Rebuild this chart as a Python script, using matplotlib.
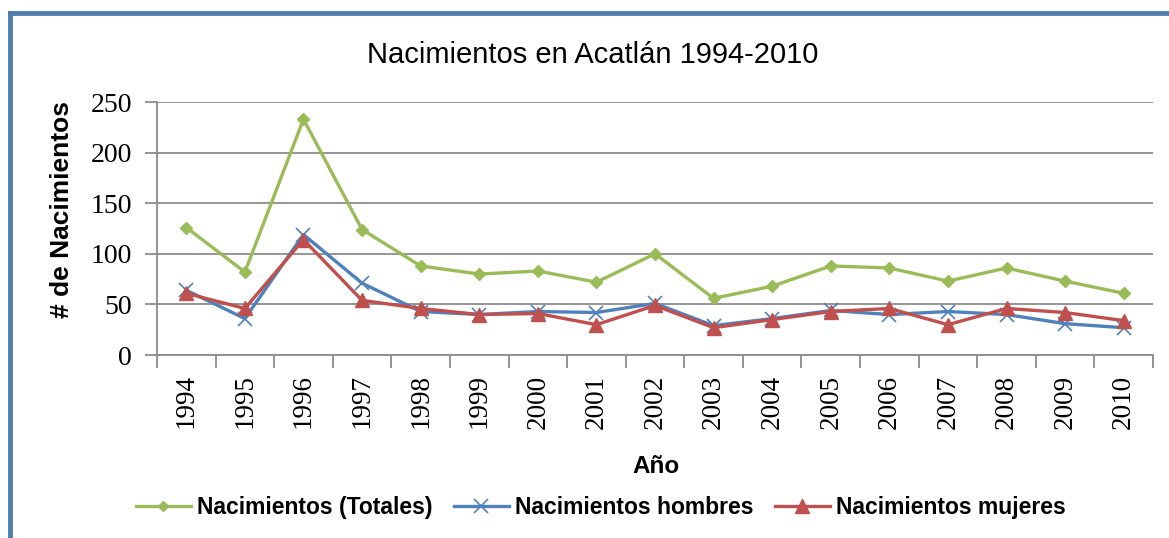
import numpy as np
import matplotlib
matplotlib.use('Agg')
import matplotlib.pyplot as plt
from matplotlib.lines import Line2D

years = ['1994', '1995', '1996', '1997', '1998', '1999', '2000', '2001', '2002',
         '2003', '2004', '2005', '2006', '2007', '2008', '2009', '2010']
totales = [126, 82, 233, 124, 88, 80, 83, 72, 100, 56, 68, 88, 86, 73, 86, 73, 61]
hombres = [64, 36, 119, 71, 43, 40, 43, 42, 51, 29, 36, 44, 40, 43, 40, 31, 27]
mujeres = [61, 46, 114, 54, 46, 40, 41, 30, 49, 27, 35, 43, 46, 30, 46, 42, 34]

c_green = '#9BBB59'
c_blue = '#4F81BD'
c_red = '#C0504D'
sans = 'Liberation Sans'
serif = 'Liberation Serif'

fig = plt.figure(figsize=(11.69, 5.38), dpi=100)
ax = fig.add_axes([0.1343, 0.3401, 0.852, 0.4703])

x = np.arange(len(years))
ax.plot(x, totales, color=c_green, lw=2.4, marker='D', markersize=6, label='Nacimientos (Totales)', zorder=3)
ax.plot(x, hombres, color=c_blue, lw=2.4, marker='x', markersize=10, markeredgewidth=1.2, label='Nacimientos hombres', zorder=3)
ax.plot(x, mujeres, color=c_red, lw=2.4, marker='^', markersize=9.5, label='Nacimientos mujeres', zorder=4)

ax.set_xlim(-0.5, len(years) - 0.5)
ax.set_ylim(0, 250)
ax.set_yticks(np.arange(0, 251, 50))
ax.yaxis.grid(True, color='#8C8C8C', lw=1.3)
ax.set_axisbelow(True)

for s in ['top', 'right']:
    ax.spines[s].set_visible(False)
for s in ['left', 'bottom']:
    ax.spines[s].set_color('#8C8C8C')
    ax.spines[s].set_linewidth(1.3)

ax.set_xticks(x)
ax.set_xticklabels(years, rotation=90, fontsize=19.5, family=serif)
ax.set_xticks(np.arange(-0.5, len(years)), minor=True)
ax.tick_params(axis='x', which='major', length=0, pad=14)
ax.tick_params(axis='x', which='minor', length=9, color='#8C8C8C', width=1.3)
ax.tick_params(axis='y', length=9, color='#8C8C8C', width=1.3, pad=9)
for t in ax.get_yticklabels():
    t.set_fontsize(20)
    t.set_family(serif)

fig.text(0.507, 0.898, 'Nacimientos en Acatlán 1994-2010', ha='center', va='center', fontsize=21, family=sans)
fig.text(0.053, 0.61, '# de Nacimientos', rotation=90, ha='center', va='center', fontsize=19, fontweight='bold', family=sans)
fig.text(0.561, 0.132, 'Año', ha='center', va='center', fontsize=17.5, fontweight='bold', family=sans)

handles = [Line2D([], [], color=c_green, lw=2.4, marker='D', markersize=5),
           Line2D([], [], color=c_blue, lw=2.4, marker='x', markersize=10, markeredgewidth=1.2),
           Line2D([], [], color=c_red, lw=2.4, marker='^', markersize=10)]
fig.legend(handles, ['Nacimientos (Totales)', 'Nacimientos hombres', 'Nacimientos mujeres'],
           loc='center', bbox_to_anchor=(0.514, 0.056), ncol=3, frameon=False,
           prop={'family': sans, 'size': 16.5, 'weight': 'bold'}, handlelength=2.4, handletextpad=0.3, columnspacing=0.9)

# chart frame (left and top edges visible)
fig.add_artist(Line2D([0.0085, 0.0085], [0.0, 0.975], transform=fig.transFigure, color='#4F7FAE', lw=3.5))
fig.add_artist(Line2D([0.0085, 1.0], [0.975, 0.975], transform=fig.transFigure, color='#4F7FAE', lw=3.5))

fig.savefig('out.png', dpi=100)
